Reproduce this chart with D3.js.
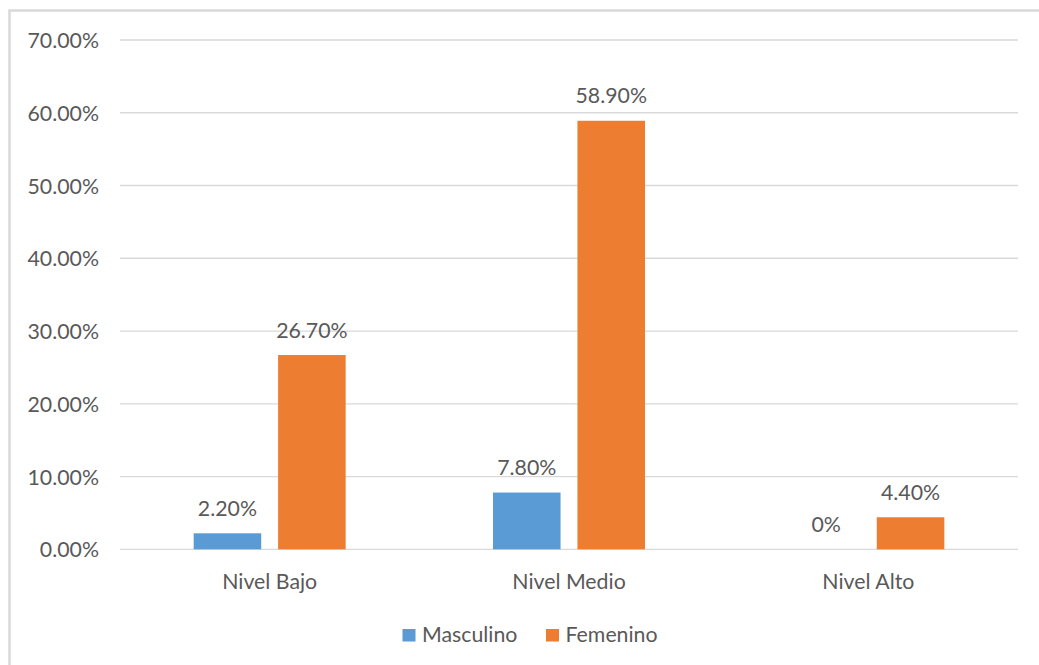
<!DOCTYPE html>
<html><head><meta charset="utf-8">
<script src="https://cdn.jsdelivr.net/npm/d3@7"></script>
<style>html,body{margin:0;padding:0;background:#fff;}</style>
</head><body>
<svg id="chart" width="1039" height="665"></svg>
<script>
const categories = ["Nivel Bajo", "Nivel Medio", "Nivel Alto"];
const seriesNames = ["Masculino", "Femenino"];
const masculino = [2.2, 7.8, 0];
const femenino = [26.7, 58.9, 4.4];
const masculinoLabels = ["2.20%", "7.80%", "0%"];
const femeninoLabels = ["26.70%", "58.90%", "4.40%"];
const yTicks = [0, 10, 20, 30, 40, 50, 60, 70];
const colors = ["#5B9BD5", "#ED7D31"];

(function () {
const seriesValues = [masculino, femenino];
const seriesLabels = [masculinoLabels, femeninoLabels];

const svg = d3.select("#chart");
const font = "Lato, 'Open Sans', sans-serif";
const fs = 21.3;
const textColor = "#595959";

// frame
svg.append("path").attr("d", "M9.5,665 V10.5 H1039").attr("fill", "none")
  .attr("stroke", "#d9d9d9").attr("stroke-width", 2.5);

const pLeft = 120, pRight = 1018, pTop = 40, pBottom = 549.3;
const y = d3.scaleLinear().domain([0, 70]).range([pBottom, pTop]);
const x = d3.scaleBand().domain(categories).range([pLeft, pRight]).padding(0);
const half = 76;
const xs = d3.scaleBand().domain(seriesNames).range([-half, half]).paddingInner(0.2).paddingOuter(0);

// gridlines
svg.append("g").selectAll("line").data(yTicks).join("line")
  .attr("x1", pLeft).attr("x2", pRight)
  .attr("y1", d => y(d)).attr("y2", d => y(d))
  .attr("stroke", "#d9d9d9").attr("stroke-width", 1.3);

// y axis labels
const yAxis = d3.axisLeft(y).tickValues(yTicks).tickSize(0).tickPadding(0)
  .tickFormat(d => d3.format(".2f")(d) + "%");
const gy = svg.append("g").attr("transform", "translate(99,0)").call(yAxis);
gy.select(".domain").remove();
gy.selectAll("text").attr("font-family", font).attr("font-size", fs)
  .attr("fill", textColor).attr("dy", "0.36em");

// x axis labels
const xAxis = d3.axisBottom(x).tickSize(0).tickPadding(0);
const gx = svg.append("g").attr("transform", `translate(0,${pBottom})`).call(xAxis);
gx.select(".domain").remove();
gx.selectAll("text").attr("font-family", font).attr("font-size", fs)
  .attr("fill", textColor).attr("dy", 0).attr("y", 39.5);

// bars
seriesNames.forEach((s, si) => {
  const g = svg.append("g");
  const data = categories.map((c, i) => ({c, v: seriesValues[si][i], label: seriesLabels[si][i]}));
  g.selectAll("rect").data(data).join("rect")
    .attr("x", d => x(d.c) + x.bandwidth() / 2 + xs(s))
    .attr("width", xs.bandwidth())
    .attr("y", d => y(d.v))
    .attr("height", d => y(0) - y(d.v))
    .attr("fill", colors[si]);
  g.selectAll("text").data(data).join("text")
    .attr("x", d => x(d.c) + x.bandwidth() / 2 + xs(s) + xs.bandwidth() / 2)
    .attr("y", d => y(d.v) - 17.5)
    .attr("text-anchor", "middle")
    .attr("font-family", font).attr("font-size", fs).attr("fill", textColor)
    .text(d => d.label);
});

// legend
const legend = svg.append("g");
const legendItems = [{name: "Masculino", x: 402.5}, {name: "Femenino", x: 546}];
legendItems.forEach((it, i) => {
  legend.append("rect").attr("x", it.x).attr("y", 629).attr("width", 13).attr("height", 12.5).attr("fill", colors[i]);
  legend.append("text").attr("x", it.x + 19.5).attr("y", 641.5)
    .attr("font-family", font).attr("font-size", fs).attr("fill", textColor).text(it.name);
});
})();
</script>
</body></html>
